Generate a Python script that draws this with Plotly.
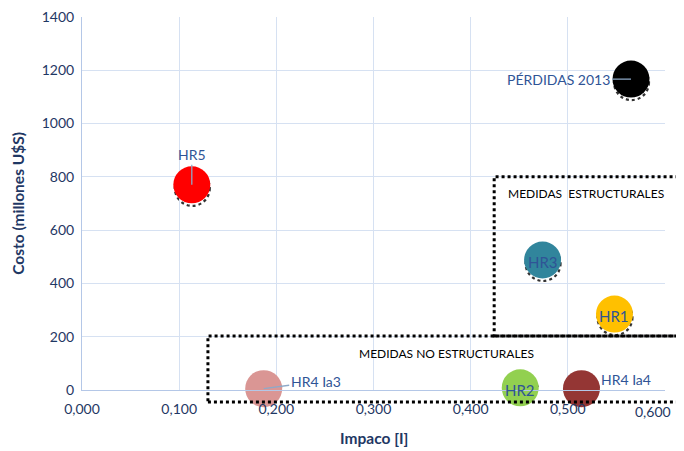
import plotly.graph_objects as go

names = ["HR5", "PÉRDIDAS 2013", "HR3", "HR1", "HR2", "HR4 Ia4", "HR4 Ia3"]
impacto = [0.113, 0.565, 0.474, 0.548, 0.451, 0.514, 0.187]
costo = [770, 1167, 488, 285, 8, 5, 5]
colors = ["#FF0000", "#000000", "#31859C", "#FFC000", "#92D050", "#943634", "#DA9694"]

x_ticks = [0, 0.1, 0.2, 0.3, 0.4, 0.5, 0.6]
y_ticks = [0, 200, 400, 600, 800, 1000, 1200, 1400]

navy = "#1F3864"
lblc = "#2F5496"
font = "Lato"

def fmt_x(v):
    return f"{v:.3f}".replace(".", ",")

x_text = [fmt_x(v) for v in x_ticks[:-1]] + [""]

fig = go.Figure()

# dotted shadows
shapes = []
for x, y in zip(impacto, costo):
    shapes.append(dict(type="circle", xref="x", yref="y", xsizemode="pixel", ysizemode="pixel",
                       xanchor=x, yanchor=y, x0=-17, x1=18, y0=-21, y1=14,
                       line=dict(color="#333333", width=2.2, dash="dot"), layer="below"))

fig.add_trace(go.Scatter(x=impacto, y=costo, mode="markers",
                         marker=dict(size=37, color=colors, line=dict(width=0), opacity=1),
                         cliponaxis=False, hoverinfo="text", text=names))

annotations = []
annotations.append(dict(x=impacto[0], y=costo[0], text="HR5", showarrow=True, arrowhead=0,
                        ax=0, ay=-30, arrowcolor="#8EA9C8", arrowwidth=1.3,
                        font=dict(color=lblc, size=14, family=font)))
annotations.append(dict(x=impacto[1], y=costo[1], text="PÉRDIDAS 2013", showarrow=True, arrowhead=0,
                        ax=-72, ay=0, arrowcolor="#8EA9C8", arrowwidth=1.3,
                        font=dict(color=lblc, size=14, family=font)))
for i in [2, 3, 4]:
    annotations.append(dict(x=impacto[i], y=costo[i], text=names[i], showarrow=False,
                            yshift=-2, font=dict(color=lblc, size=15, family=font)))
annotations.append(dict(x=impacto[5], y=costo[5], text=names[5], showarrow=False,
                        xanchor="left", xshift=18, yshift=9,
                        font=dict(color=lblc, size=14, family=font)))
annotations.append(dict(x=impacto[6], y=costo[6], text=names[6], showarrow=True, arrowhead=0,
                        ax=52, ay=-7, arrowcolor="#8EA9C8", arrowwidth=1.3,
                        font=dict(color=lblc, size=14, family=font)))

# last x tick label kept inside the page (as in the reference)
annotations.append(dict(x=x_ticks[-1], xref="x", y=0, yref="paper", yanchor="middle", yshift=-21,
                        xshift=-12, text=fmt_x(x_ticks[-1]), showarrow=False,
                        font=dict(color=navy, size=14, family=font)))

# boxes
shapes.append(dict(type="rect", xref="paper", yref="paper", x0=0.707, x1=1.027, y0=0.145, y1=0.572,
                   line=dict(color="black", width=3, dash="dot")))
shapes.append(dict(type="rect", xref="paper", yref="paper", x0=0.216, x1=1.027, y0=-0.032, y1=0.145,
                   line=dict(color="black", width=3, dash="dot")))
annotations.append(dict(xref="paper", yref="paper", x=0.864, y=0.528, xanchor="center", yanchor="middle",
                        text="MEDIDAS  ESTRUCTURALES",
                        showarrow=False, font=dict(color="black", size=12, family=font)))
annotations.append(dict(xref="paper", yref="paper", x=0.626, y=0.099, xanchor="center", yanchor="middle",
                        text="MEDIDAS NO ESTRUCTURALES",
                        showarrow=False, font=dict(color="black", size=12, family=font)))
# axis titles
annotations.append(dict(xref="paper", yref="paper", x=0.5, y=-0.129, xanchor="center", yanchor="middle",
                        text="<b>Impaco [I]</b>", showarrow=False,
                        font=dict(color=navy, size=15.5, family=font)))
annotations.append(dict(xref="paper", yref="paper", x=-0.111, y=0.5, xanchor="center", yanchor="middle",
                        text="<b>Costo (millones U$S)</b>", showarrow=False, textangle=-90,
                        font=dict(color=navy, size=15.5, family=font)))

# page body has an 8px margin; size the figure so the plot lands where the reference has it
fig.update_layout(
    width=676, height=443,
    margin=dict(l=74, r=19, t=9, b=61),
    paper_bgcolor="white", plot_bgcolor="white",
    separators=",.",
    showlegend=False,
    shapes=shapes, annotations=annotations,
    font=dict(family=font, color=navy),
    xaxis=dict(range=[0, 0.6], tickvals=x_ticks, ticktext=x_text, automargin=False,
               ticklabeloverflow="allow", ticklabelstandoff=6,
               showgrid=True, gridcolor="#D6E1F2", gridwidth=1,
               showline=True, linecolor="#B4C7E7", zeroline=False, ticks="",
               tickfont=dict(size=14, color=navy, family=font)),
    yaxis=dict(range=[0, 1400], tickvals=y_ticks, tickformat="d", automargin=False,
               ticklabeloverflow="allow", ticklabelstandoff=4,
               showgrid=True, gridcolor="#D6E1F2", gridwidth=1,
               showline=True, linecolor="#B4C7E7", zeroline=False, ticks="",
               tickfont=dict(size=14, color=navy, family=font)),
)

fig.write_html("out.html")
